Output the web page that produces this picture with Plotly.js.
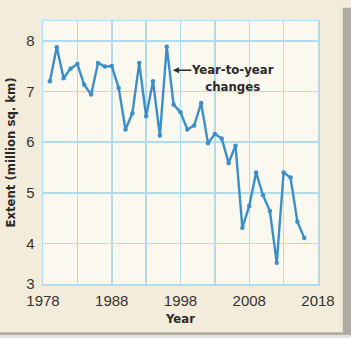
<!DOCTYPE html>
<html>
<head>
<meta charset="utf-8">
<script src="https://cdn.plot.ly/plotly-3.0.1.min.js"></script>
<style>
html,body{margin:0;padding:0;background:#f4ecda;}
#chart{width:351px;height:338px;}
</style>
</head>
<body>
<div id="chart"></div>
<script>
// September Arctic sea ice extent (million sq. km)
var years = [1979,1980,1981,1982,1983,1984,1985,1986,1987,1988,1989,1990,1991,1992,1993,1994,1995,1996,1997,1998,1999,2000,2001,2002,2003,2004,2005,2006,2007,2008,2009,2010,2011,2012,2013,2014,2015,2016];
var extent = [7.20,7.87,7.26,7.45,7.54,7.13,6.94,7.56,7.49,7.50,7.07,6.25,6.57,7.56,6.51,7.20,6.13,7.88,6.74,6.59,6.25,6.33,6.77,5.98,6.16,6.07,5.59,5.93,4.31,4.74,5.40,4.95,4.64,3.62,5.40,5.30,4.43,4.11];
var xTickVals = [1978,1988,1998,2008,2018];
var xTickText = ['1978','1988','1998','2008','2018'];
var yTickVals = [3.2,4,5,6,7,8];
var yTickText = ['3','4','5','6','7','8'];
var noteText = 'Year-to-year<br>changes';

var lineColor = '#3b8fc9';
var gridColor = '#b3dbee';
var numFont = {family:'Liberation Sans, Arial, sans-serif', size:15, color:'#333'};
var boldFamily = 'DejaVu Sans Condensed, Liberation Sans Narrow, Arial Narrow, sans-serif';
var boldFont = {family:boldFamily, size:13, color:'#2a2a2a', weight:'bold'};

var trace = {
  x: years, y: extent, type:'scatter', mode:'lines+markers',
  line:{color:lineColor, width:2.4},
  marker:{color:lineColor, size:4.5},
  hoverinfo:'skip'
};

var layout = {
  width:351, height:338,
  margin:{l:43, r:33, t:21, b:54},
  paper_bgcolor:'#f4ecda',
  plot_bgcolor:'#fbf8ef',
  showlegend:false,
  xaxis:{
    range:[1978,2018], tickvals:xTickVals, ticktext:xTickText,
    showgrid:true, gridcolor:gridColor, gridwidth:1.5,
    minor:{tick0:1978, dtick:5, showgrid:true, gridcolor:gridColor, gridwidth:1.5},
    showline:true, mirror:true, linecolor:gridColor, linewidth:1.5,
    zeroline:false, ticks:'', tickfont:numFont, ticklabelstandoff:2,
    title:{text:'Year', font:boldFont, standoff:6}
  },
  yaxis:{
    range:[3.2,8.39], tickvals:yTickVals, ticktext:yTickText,
    showgrid:true, gridcolor:gridColor, gridwidth:1.5,
    showline:true, mirror:true, linecolor:gridColor, linewidth:1.5,
    zeroline:false, ticks:'', tickfont:numFont, ticklabelstandoff:4,
    title:{text:'Extent (million sq. km)', font:boldFont, standoff:7}
  },
  annotations:[
    {x:1996.9, y:7.42, ax:1999.8, ay:7.42, axref:'x', ayref:'y', xref:'x', yref:'y',
     text:'', showarrow:true, arrowhead:2, arrowsize:0.8, arrowwidth:1.5, arrowcolor:'#2a2a2a'},
    {x:2005.5, y:7.27, xref:'x', yref:'y', text:noteText, showarrow:false,
     align:'center', font:{family:boldFamily, size:13, color:'#2a2a2a', weight:'bold'}}
  ],
  shapes:[
    {type:'rect', xref:'paper', yref:'paper', x0:1.09, x1:1.12, y0:-0.19, y1:1.05,
     fillcolor:'#b0aca4', line:{width:0}, layer:'below'},
    {type:'rect', xref:'paper', yref:'paper', x0:-0.2, x1:1.12, y0:-0.195, y1:-0.183,
     fillcolor:'#b0aca4', line:{width:0}, layer:'below'},
    {type:'rect', xref:'paper', yref:'paper', x0:-0.2, x1:1.2, y0:-0.3, y1:-0.195,
     fillcolor:'#e6e4e0', line:{width:0}, layer:'below'},
    {type:'rect', xref:'paper', yref:'paper', x0:1.12, x1:1.2, y0:-0.3, y1:1.2,
     fillcolor:'#e6e4e0', line:{width:0}, layer:'below'}
  ]
};

Plotly.newPlot('chart', [trace], layout, {staticPlot:true, displayModeBar:false});
</script>
</body>
</html>
